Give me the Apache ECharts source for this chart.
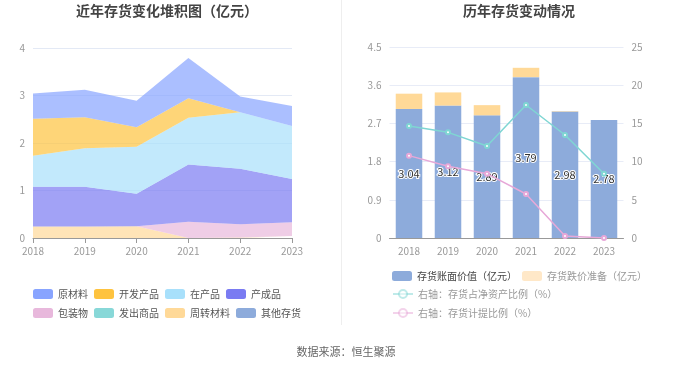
<!DOCTYPE html>
<html>
<head>
<meta charset="utf-8">
<style>html,body{margin:0;padding:0;background:#fff}#c{width:680px;height:367px}</style>
<script src="https://cdn.jsdelivr.net/npm/echarts@6/dist/echarts.min.js"></script>
</head>
<body>
<div id="c"></div>
<script>
var years = ['2018','2019','2020','2021','2022','2023'];
// left chart (亿元)
var yuancailiao = [0.53, 0.58, 0.56, 0.85, 0.33, 0.42];
var kaifachanpin = [0.78, 0.65, 0.41, 0.41, 0, 0];
var zaichanpin = [0.65, 0.81, 0.99, 0.98, 1.19, 1.12];
var chanchengpin = [0.84, 0.84, 0.68, 1.21, 1.17, 0.91];
var baozhuangwu = [0, 0, 0, 0.34, 0.28, 0.29];
var fachushangpin = [0, 0, 0, 0, 0, 0];
var zhouzhuancailiao = [0.24, 0.24, 0.25, 0, 0.01, 0.04];
var qitacunhuo = [0, 0, 0, 0, 0, 0];
// right chart
var bookValue = [3.04, 3.12, 2.89, 3.79, 2.98, 2.78];
var reserve = [0.36, 0.31, 0.24, 0.22, 0.01, 0];
var ratioNetAsset = [14.66, 13.83, 12.04, 17.41, 13.48, 8.42];
var ratioReserve = [10.78, 9.38, 8.42, 5.76, 0.26, 0];
var leftTicks = [0, 1, 2, 3, 4];
var rightTicks = [0, 0.9, 1.8, 2.7, 3.6, 4.5];

var leftNames = ['原材料','开发产品','在产品','产成品','包装物','发出商品','周转材料','其他存货'];
var leftData = [yuancailiao, kaifachanpin, zaichanpin, chanchengpin, baozhuangwu, fachushangpin, zhouzhuancailiao, qitacunhuo];
var leftColors = ['#88a4ff','#fec33f','#a8e0fb','#7a7bf2','#e8b8dc','#88d8d8','#ffd998','#8dabdb'];

var chart = echarts.init(document.getElementById('c'));
var axisLabel = {color:'#999', fontSize:10, fontFamily:'Noto Sans CJK SC'};
var series = [];
// stack bottom-up: reversed legend order
for (var i = leftNames.length - 1; i >= 0; i--) {
  series.push({
    name: leftNames[i], type:'line', stack:'s', xAxisIndex:0, yAxisIndex:0,
    data: leftData[i], symbol:'none', smooth:false,
    lineStyle:{width:0}, areaStyle:{color:leftColors[i], opacity:0.7},
    itemStyle:{color:leftColors[i]}
  });
}
series.push({
  name:'存货账面价值（亿元）', type:'bar', stack:'b', xAxisIndex:1, yAxisIndex:1,
  data: bookValue, barWidth:'68%', itemStyle:{color:'#8dabdb'},
  label:{show:true, position:'inside', color:'#333', fontSize:11, textBorderColor:'#fff', textBorderWidth:2,
    formatter:function(p){return p.value.toFixed(2);}}
});
series.push({
  name:'存货跌价准备（亿元）', type:'bar', stack:'b', xAxisIndex:1, yAxisIndex:1,
  data: reserve, barWidth:'68%', itemStyle:{color:'#ffd998'}
});
series.push({
  name:'右轴：存货占净资产比例（%）', type:'line', xAxisIndex:1, yAxisIndex:2,
  data: ratioNetAsset, symbol:'emptyCircle', symbolSize:4,
  lineStyle:{color:'#7fd6d3', width:1.5}, itemStyle:{color:'#7fd6d3'}
});
series.push({
  name:'右轴：存货计提比例（%）', type:'line', xAxisIndex:1, yAxisIndex:2,
  data: ratioReserve, symbol:'emptyCircle', symbolSize:4,
  lineStyle:{color:'#e7a8d8', width:1.5}, itemStyle:{color:'#e7a8d8'}
});

var option = {
  animation:false,
  textStyle:{fontFamily:'Noto Sans CJK SC'},
  title:[
    {text:'近年存货变化堆积图（亿元）', left:162, top:-1, textAlign:'center',
     textStyle:{fontSize:14, fontWeight:'bold', color:'#444', fontFamily:'Noto Sans CJK SC'}},
    {text:'历年存货变动情况', left:514, top:-1, textAlign:'center',
     textStyle:{fontSize:14, fontWeight:'bold', color:'#444', fontFamily:'Noto Sans CJK SC'}},
    {text:'数据来源：恒生聚源', left:341, top:341, textAlign:'center',
     textStyle:{fontSize:11, fontWeight:'normal', color:'#666', fontFamily:'Noto Sans CJK SC'}}
  ],
  graphic:[{type:'line', shape:{x1:341.5,y1:0,x2:341.5,y2:325}, style:{stroke:'#eeeeee', lineWidth:1}}],
  legend:[
    {data:leftNames.slice(0,4), left:33, top:289, padding:0, itemWidth:20, itemHeight:10, itemGap:6, icon:'roundRect',
     textStyle:{fontSize:10, color:'#555'}},
    {data:leftNames.slice(4), left:33, top:308, padding:0, itemWidth:20, itemHeight:10, itemGap:6, icon:'roundRect',
     textStyle:{fontSize:10, color:'#555'}},
    {data:[{name:'存货账面价值（亿元）', textStyle:{color:'#444'}},
           {name:'存货跌价准备（亿元）', itemStyle:{color:'#ffe8c8'}, textStyle:{color:'#999'}}],
     left:392, top:271, padding:0, itemWidth:20, itemHeight:10, itemGap:5, icon:'roundRect',
     textStyle:{fontSize:10}},
    {data:[{name:'右轴：存货占净资产比例（%）', itemStyle:{opacity:0.5}, lineStyle:{opacity:0.5}},
           {name:'右轴：存货计提比例（%）', itemStyle:{opacity:0.5}, lineStyle:{opacity:0.5}}],
     orient:'vertical', left:392, top:289, padding:0, itemWidth:20, itemHeight:10, itemGap:9,
     textStyle:{fontSize:10, color:'#999'}}
  ],
  grid:[
    {left:33, right:388, top:48, bottom:129},
    {left:389.5, right:56.5, top:47, bottom:129}
  ],
  xAxis:[
    {type:'category', gridIndex:0, data:years, boundaryGap:false,
     axisLine:{lineStyle:{color:'#999'}}, axisTick:{lineStyle:{color:'#999'}}, axisLabel:axisLabel},
    {type:'category', gridIndex:1, data:years,
     axisLine:{lineStyle:{color:'#999'}}, axisTick:{show:false}, axisLabel:axisLabel}
  ],
  yAxis:[
    {type:'value', gridIndex:0, min:leftTicks[0], max:leftTicks[leftTicks.length-1], interval:1,
     axisLabel:axisLabel, axisLine:{show:false}, axisTick:{show:false},
     splitLine:{lineStyle:{color:'#e3e9f5'}}},
    {type:'value', gridIndex:1, min:rightTicks[0], max:rightTicks[rightTicks.length-1], interval:0.9,
     axisLabel:Object.assign({}, axisLabel, {formatter:function(v){return String(Math.round(v*10)/10);}}),
     axisLine:{show:false}, axisTick:{show:false},
     splitLine:{lineStyle:{color:'#e8ecf7'}}},
    {type:'value', gridIndex:1, min:0, max:25, interval:5, position:'right',
     axisLabel:axisLabel, axisLine:{show:false}, axisTick:{show:false}, splitLine:{show:false}}
  ],
  series:series
};
chart.setOption(option);
</script>
</body>
</html>
